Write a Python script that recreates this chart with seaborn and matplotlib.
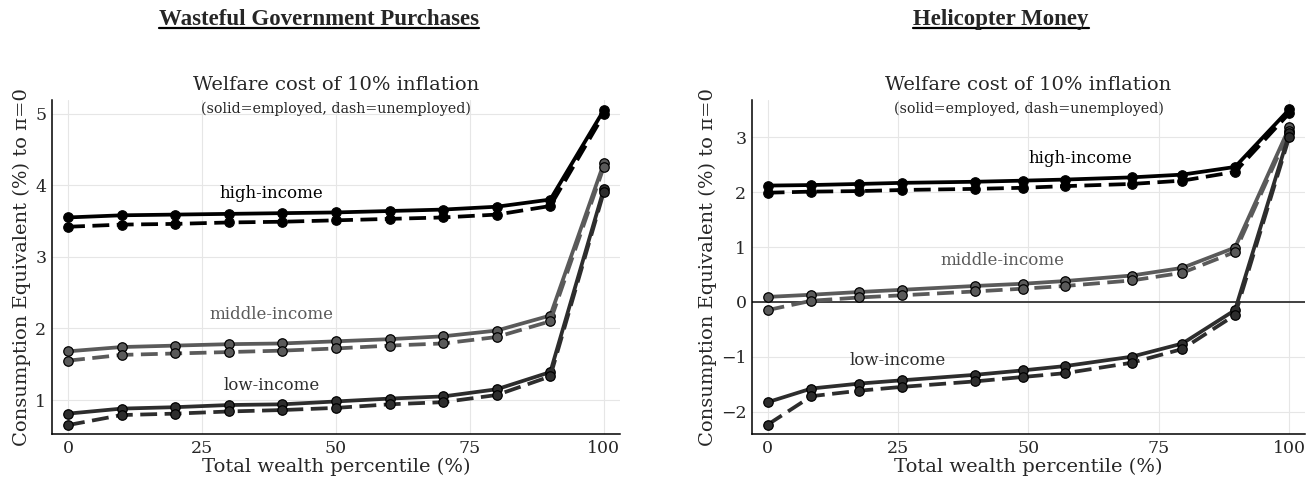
import matplotlib

matplotlib.use("Agg")
import matplotlib.pyplot as plt
import pandas as pd
import seaborn as sns
from matplotlib.lines import Line2D

# --- data -----------------------------------------------------------------
WASTE_X = [0, 10, 20, 30, 40, 50, 60, 70, 80, 90, 100]
WASTE_HIGH_EMP = [3.55, 3.58, 3.59, 3.60, 3.61, 3.62, 3.64, 3.66, 3.70, 3.80, 5.05]
WASTE_HIGH_UNEMP = [3.42, 3.45, 3.46, 3.48, 3.49, 3.51, 3.53, 3.55, 3.59, 3.71, 4.99]
WASTE_MID_EMP = [1.68, 1.74, 1.76, 1.78, 1.79, 1.82, 1.85, 1.89, 1.97, 2.18, 4.31]
WASTE_MID_UNEMP = [1.55, 1.63, 1.65, 1.67, 1.69, 1.72, 1.76, 1.79, 1.88, 2.10, 4.26]
WASTE_LOW_EMP = [0.81, 0.88, 0.90, 0.93, 0.94, 0.98, 1.02, 1.05, 1.15, 1.39, 3.95]
WASTE_LOW_UNEMP = [0.65, 0.79, 0.81, 0.84, 0.86, 0.89, 0.94, 0.97, 1.07, 1.33, 3.91]

HELI_X = [0, 8.4, 17.6, 25.8, 39.8, 48.9, 57.1, 69.8, 79.5, 89.6, 100]
HELI_HIGH_EMP = [2.12, 2.13, 2.15, 2.17, 2.19, 2.21, 2.23, 2.27, 2.32, 2.46, 3.51]
HELI_HIGH_UNEMP = [1.99, 2.01, 2.02, 2.04, 2.06, 2.08, 2.11, 2.15, 2.21, 2.37, 3.44]
HELI_MID_EMP = [0.09, 0.13, 0.18, 0.22, 0.29, 0.33, 0.38, 0.48, 0.62, 0.99, 3.18]
HELI_MID_UNEMP = [-0.15, 0.02, 0.08, 0.12, 0.19, 0.24, 0.29, 0.39, 0.53, 0.91, 3.12]
HELI_LOW_EMP = [-1.83, -1.58, -1.49, -1.43, -1.33, -1.25, -1.17, -1.00, -0.76, -0.15, 3.07]
HELI_LOW_UNEMP = [-2.24, -1.72, -1.62, -1.55, -1.45, -1.37, -1.30, -1.11, -0.86, -0.24, 3.01]

GROUPS = ["high-income", "middle-income", "low-income"]
STATUSES = ["employed", "unemployed"]
X_TICKS = [0, 25, 50, 75, 100]

COLORS = {"high-income": "#000000", "middle-income": "#5a5a5a", "low-income": "#2d2d2d"}


def build_frame(x, series):
    rows = []
    for (group, status), values in series.items():
        for xi, yi in zip(x, values):
            rows.append({"x": xi, "value": yi, "group": group, "status": status})
    return pd.DataFrame(rows)


def draw_panel(ax, df, ylim, yticks, labels):
    sns.lineplot(
        data=df,
        x="x",
        y="value",
        hue="group",
        hue_order=GROUPS,
        style="status",
        style_order=STATUSES,
        palette=COLORS,
        dashes={"employed": "", "unemployed": (4.5, 2.0)},
        markers={"employed": "o", "unemployed": "o"},
        linewidth=2.7,
        markersize=6.8,
        markeredgecolor="black",
        markeredgewidth=0.9,
        legend=False,
        ax=ax,
    )
    ax.set_xlim(-3, 103)
    ax.set_ylim(*ylim)
    ax.set_xticks(X_TICKS)
    ax.set_yticks(yticks)
    ax.set_yticklabels([f"{t}".replace("-", "\u2212") for t in yticks])
    ax.grid(True, color="#e6e6e6", linewidth=0.8)
    ax.set_axisbelow(True)
    for side in ["top", "right"]:
        ax.spines[side].set_visible(False)
    for side in ["left", "bottom"]:
        ax.spines[side].set_linewidth(1.1)
        ax.spines[side].set_color("black")
    ax.tick_params(direction="in", length=4, width=0.8, labelsize=12.5, pad=4)
    ax.set_xlabel("Total wealth percentile (%)", fontsize=14, labelpad=1)
    ax.set_ylabel("Consumption Equivalent (%) to \u03c0=0", fontsize=14, labelpad=3)
    ax.set_title("Welfare cost of 10% inflation", fontsize=14, pad=7)
    ax.text(0.5, 0.973, "(solid=employed, dash=unemployed)", transform=ax.transAxes,
            ha="center", va="center", fontsize=10.3)
    for group, (lx, ly) in labels.items():
        ax.text(lx, ly, group, ha="center", va="center", fontsize=12, color=COLORS[group])


def underlined_title(fig, x, text):
    t = fig.text(x, 0.948, text, ha="center", va="baseline", fontsize=16.5,
                 fontweight="bold", family="Liberation Serif")
    fig.canvas.draw()
    bb = t.get_window_extent().transformed(fig.transFigure.inverted())
    fig.add_artist(Line2D([bb.x0, bb.x1], [0.941, 0.941], color="black", linewidth=1.6))


def main():
    sns.set_theme(style="white")
    plt.rcParams["font.family"] = ["DejaVu Serif"]
    plt.rcParams["axes.unicode_minus"] = True

    waste = build_frame(WASTE_X, {
        ("high-income", "employed"): WASTE_HIGH_EMP,
        ("high-income", "unemployed"): WASTE_HIGH_UNEMP,
        ("middle-income", "employed"): WASTE_MID_EMP,
        ("middle-income", "unemployed"): WASTE_MID_UNEMP,
        ("low-income", "employed"): WASTE_LOW_EMP,
        ("low-income", "unemployed"): WASTE_LOW_UNEMP,
    })
    heli = build_frame(HELI_X, {
        ("high-income", "employed"): HELI_HIGH_EMP,
        ("high-income", "unemployed"): HELI_HIGH_UNEMP,
        ("middle-income", "employed"): HELI_MID_EMP,
        ("middle-income", "unemployed"): HELI_MID_UNEMP,
        ("low-income", "employed"): HELI_LOW_EMP,
        ("low-income", "unemployed"): HELI_LOW_UNEMP,
    })

    fig = plt.figure(figsize=(13.16, 4.83), dpi=100)
    ax_left = fig.add_axes([0.0395, 0.1014, 0.4316, 0.6915])
    ax_right = fig.add_axes([0.5714, 0.1014, 0.4202, 0.6915])

    draw_panel(ax_left, waste, (0.525, 5.19), [1, 2, 3, 4, 5], {
        "high-income": (38, 3.89),
        "middle-income": (38, 2.20),
        "low-income": (38, 1.20),
    })
    ax_right.axhline(0, color="#333333", linewidth=1.3, zorder=1)
    draw_panel(ax_right, heli, (-2.41, 3.68), [-2, -1, 0, 1, 2, 3], {
        "high-income": (60, 2.62),
        "middle-income": (45, 0.75),
        "low-income": (25, -1.07),
    })

    underlined_title(fig, 0.2424, "Wasteful Government Purchases")
    underlined_title(fig, 0.7607, "Helicopter Money")

    fig.savefig("out.png", dpi=100, facecolor="white")


if __name__ == "__main__":
    main()
